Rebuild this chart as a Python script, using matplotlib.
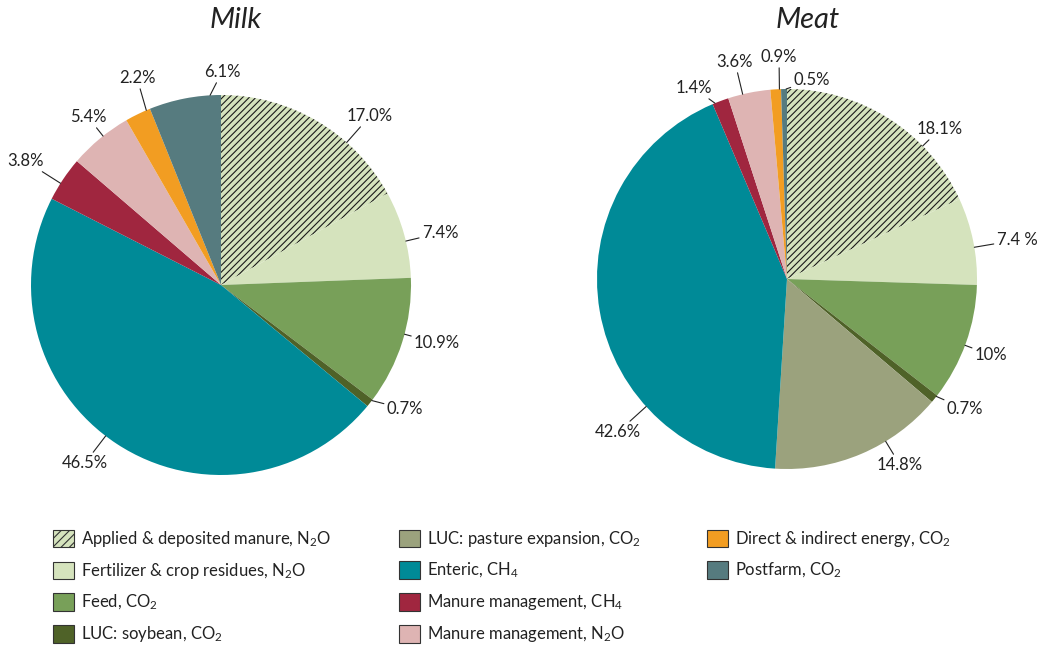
import numpy as np
import matplotlib
matplotlib.use("Agg")
import matplotlib.pyplot as plt
from matplotlib.patches import Patch

plt.rcParams.update({
    "font.family": ["Lato", "DejaVu Sans"],
    "mathtext.fontset": "custom",
    "mathtext.rm": "Lato",
    "mathtext.it": "Lato:italic",
    "mathtext.default": "regular",
    "hatch.linewidth": 0.8,
    "hatch.color": "#1a1a1a",
})

# categories (legend order)
categories = [
    "Applied & deposited manure, N$_2$O",
    "Fertilizer & crop residues, N$_2$O",
    "Feed, CO$_2$",
    "LUC: soybean, CO$_2$",
    "LUC: pasture expansion, CO$_2$",
    "Enteric, CH$_4$",
    "Manure management, CH$_4$",
    "Manure management, N$_2$O",
    "Direct & indirect energy, CO$_2$",
    "Postfarm, CO$_2$",
]
colors = ["#d5e3bd", "#d5e3bd", "#78a059", "#4f6228", "#9ba27d",
          "#008a97", "#a0263f", "#deb4b3", "#f29d22", "#567b7f"]

# milk: no pasture expansion slice
milk_idx = [0, 1, 2, 3, 5, 6, 7, 8, 9]
milk_values = [17.0, 7.4, 10.9, 0.7, 46.5, 3.8, 5.4, 2.2, 6.1]
milk_labels = ["17.0%", "7.4%", "10.9%", "0.7%", "46.5%", "3.8%", "5.4%", "2.2%", "6.1%"]

meat_idx = [0, 1, 2, 3, 4, 5, 6, 7, 8, 9]
meat_values = [18.1, 7.4, 10, 0.7, 14.8, 42.6, 1.4, 3.6, 0.9, 0.5]
meat_labels = ["18.1%", "7.4 %", "10%", "0.7%", "14.8%", "42.6%", "1.4%", "3.6%", "0.9%", "0.5%"]

# label positions (in pie radius units)
milk_pos = [(0.784, 0.889), (1.153, 0.274), (1.137, -0.305), (0.968, -0.653), (-0.716, -0.937),
            (-1.03, 0.653), (-0.70, 0.884), (-0.442, 1.089), (0.005, 1.121)]
meat_pos = [(0.805, 0.789), (1.21, 0.205), (1.074, -0.40), (0.937, -0.684), (0.595, -0.979),
            (-0.889, -0.805), (-0.489, 1.005), (-0.274, 1.142), (-0.042, 1.168), (0.13, 1.047)]

W, H = 1046, 656
fig = plt.figure(figsize=(W / 100, H / 100), dpi=100)
K = 1.3


def draw_pie(cx, cy, r, idx, values, labels, pos, title, tx):
    ax = fig.add_axes([(cx - K * r) / W, (H - cy - K * r) / H, 2 * K * r / W, 2 * K * r / H])
    wedges, _ = ax.pie(values, colors=[colors[i] for i in idx], startangle=90,
                       counterclock=False, wedgeprops=dict(linewidth=0))
    for w, i in zip(wedges, idx):
        if i == 0:
            w.set_hatch("/////")
    ax.set_xlim(-K, K)
    ax.set_ylim(-K, K)
    ax.axis("off")
    for w, lab, (px, py) in zip(wedges, labels, pos):
        lo, hi = sorted([w.theta1, w.theta2])
        span = hi - lo
        a = np.degrees(np.arctan2(py, px))
        # bring the angle into the wedge's range
        while a < lo - 180:
            a += 360
        while a > hi + 180:
            a -= 360
        a = min(max(a, lo + 0.15 * span), hi - 0.15 * span)
        ax.annotate(lab, xy=(np.cos(np.radians(a)), np.sin(np.radians(a))),
                    xytext=(px, py), ha="center", va="center", fontsize=12,
                    color="#222222",
                    arrowprops=dict(arrowstyle="-", lw=0.8, color="#222222",
                                    shrinkA=0, shrinkB=0))
    fig.text(tx / W, 1 - 20 / H, title, ha="center", va="center",
             style="italic", fontsize=21, color="#222222")


draw_pie(221, 285, 190, milk_idx, milk_values, milk_labels, milk_pos, "Milk", 236)
draw_pie(787, 279, 190, meat_idx, meat_values, meat_labels, meat_pos, "Meat", 808)

# legend in three columns
cols = [[0, 1, 2, 3], [4, 5, 6, 7], [8, 9]]
col_x = [53, 399, 707]
for c, x in zip(cols, col_x):
    handles = [Patch(facecolor=colors[i], edgecolor="#333333", linewidth=0.8,
                     hatch="////" if i == 0 else None) for i in c]
    fig.legend(handles, [categories[i] for i in c], loc="upper left",
               bbox_to_anchor=(x / W, 1 - 529 / H), frameon=False, fontsize=12,
               handlelength=1.25, handleheight=1.25, handletextpad=0.45,
               labelspacing=0.72, borderpad=0, borderaxespad=0,
               labelcolor="#222222")

fig.savefig("out.png", dpi=100)
